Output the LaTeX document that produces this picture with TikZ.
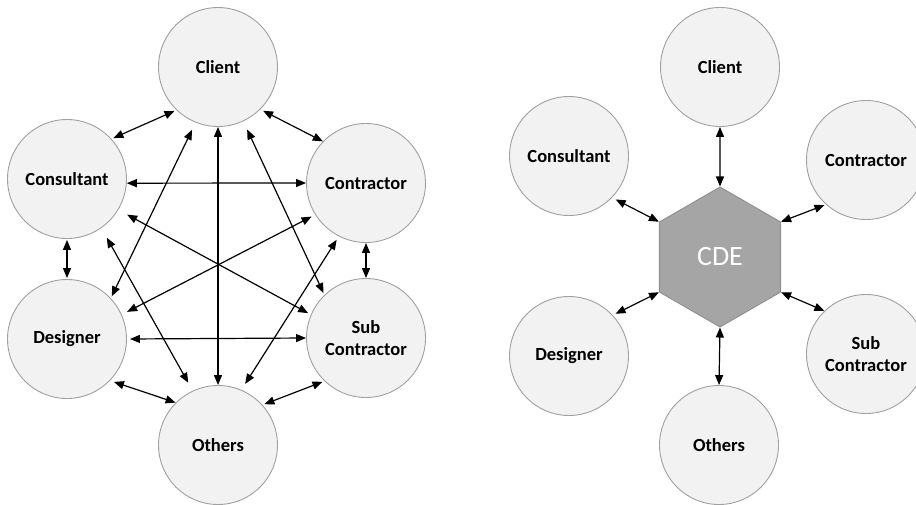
\documentclass[tikz,border=0pt]{standalone}
\usepackage{fontspec}
\setmainfont{Carlito}
\usetikzlibrary{arrows.meta,shapes.geometric}
\definecolor{discfill}{HTML}{F2F2F2}
\definecolor{discline}{HTML}{A0A0A0}
\definecolor{hexfill}{HTML}{A5A5A5}
\definecolor{hexline}{HTML}{8E8E8E}
\begin{document}
\begin{tikzpicture}[x=1pt,y=-1pt,
  party/.style={circle, draw=discline, fill=discfill, line width=0.9pt,
    minimum size=119pt, inner sep=0pt, align=center,
    font=\fontsize{18.5}{22}\selectfont\bfseries, text=black},
  hub/.style={regular polygon, regular polygon sides=6, shape border rotate=30,
    draw=hexline, fill=hexfill, line width=0.9pt, minimum size=140pt,
    inner sep=0pt, text=white, font=\fontsize{28}{30}\selectfont},
  link/.style={{Triangle[length=10pt,width=8pt]}-{Triangle[length=10pt,width=8pt]},
    line width=1.2pt, black}]
\useasboundingbox (0,0) rectangle (916,504);
\clip (0,0) rectangle (916,504);

% every party talks to every other party
\node[party] (cl) at (218,67)  {Client};
\node[party] (co) at (67,179)  {Consultant};
\node[party] (ct) at (366,183) {Contractor};
\node[party] (de) at (67,339)  {Designer};
\node[party] (su) at (366,338) {Sub\\Contractor};
\node[party] (ot) at (218,445) {Others};

\draw[link, shorten <=2pt, shorten >=2pt] (cl.226) -- (co.42);
\draw[link, shorten <=3pt] (cl.315) -- (ct.136);
\draw[link] (co.-4) -- (ct.180);
\draw[link, shorten <=1pt, shorten >=1pt] (co.270) -- (de.90);
\draw[link] (ct.270) -- (su.90);
\draw[link, shorten <=3pt] (de.0) -- (su.180);
\draw[link] (cl.270) -- (ot.90);
\draw[link, shorten <=8pt, shorten >=2pt] (cl.248) -- (de.43);
\draw[link, shorten <=9pt, shorten >=2pt] (cl.295) -- (su.134);
\draw[link, shorten <=10pt, shorten >=3pt] (co.329) -- (su.157);
\draw[link, shorten <=4pt, shorten >=6pt] (ct.212) -- (de.24);
\draw[link, shorten <=11pt, shorten >=9pt] (co.305) -- (ot.115);
\draw[link, shorten <=4pt, shorten >=7pt] (ct.243) -- (ot.67);
\draw[link, shorten <=4pt] (de.316) -- (ot.135);
\draw[link, shorten <=2pt, shorten >=2pt] (su.226) -- (ot.42);

% every party talks only to the common data environment
\node[hub] (cde) at (720,257) {CDE};
\node[party] (cl2) at (720,67)  {Client};
\node[party] (co2) at (569,156) {Consultant};
\node[party] (ct2) at (866,160) {Contractor};
\node[party] (de2) at (569,356) {Designer};
\node[party] (su2) at (866,354) {Sub\\Contractor};
\node[party] (ot2) at (719,445) {Others};

\draw[link] (cl2.270) -- (cde.90);
\draw[link, shorten <=4pt] (co2.316) -- (cde.150);
\draw[link, shorten <=1.5pt] (ct2.228) -- (cde.30);
\draw[link, shorten <=3pt] (de2.43) -- (cde.210);
\draw[link] (su2.134) -- (cde.330);
\draw[link] (ot2.90) -- (cde.270);
\end{tikzpicture}
\end{document}
